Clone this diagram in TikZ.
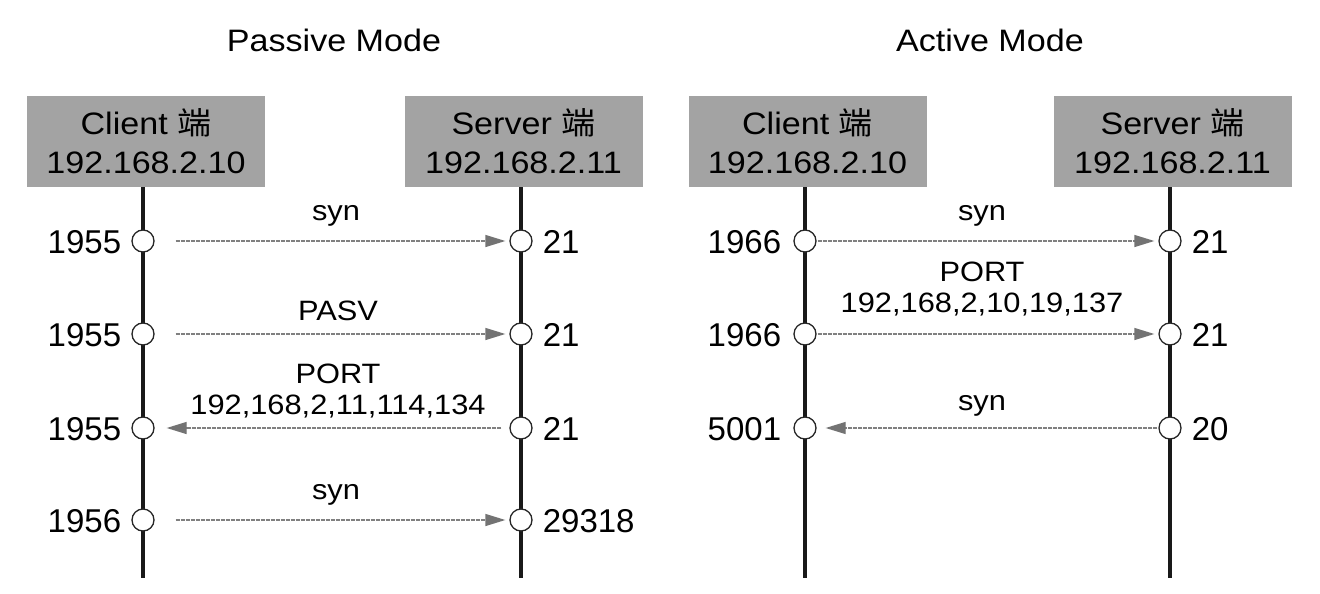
\documentclass[tikz,border=0pt]{standalone}
\usepackage{fontspec}
\setmainfont{Liberation Sans}
\newfontfamily\cjk{Noto Sans CJK SC}
\usetikzlibrary{arrows.meta}
\newcommand{\Xs}[1]{\scalebox{1.1}[1]{#1}}
\begin{document}
\begin{tikzpicture}[x=1pt,y=-1pt,
  boxst/.style={fill=black!36, minimum width=238pt, minimum height=91pt, inner sep=0pt, align=center,
     font=\fontsize{31}{40}\selectfont},
  life/.style={line width=3.5pt, black!90},
  port/.style={circle, draw=black!85, line width=1.3pt, fill=white, minimum size=22pt, inner sep=0pt},
  lbl/.style={font=\fontsize{33}{38}\selectfont, inner sep=0pt, yshift=-1pt},
  msg/.style={font=\fontsize{28}{33}\selectfont, inner sep=0pt, align=center},
  title/.style={font=\fontsize{31}{36}\selectfont, inner sep=0pt},
  arr/.style={draw=black!50, line width=1.3pt, dash pattern=on 4pt off 1pt,
     -{Triangle[length=20pt,width=12pt,color=black!55,fill=black!55]}}
]
\useasboundingbox (0,0) rectangle (1320,594);

% titles
\node[title] (t1) at (334,40) {\Xs{Passive Mode}};
\node[title] (t2) at (990,40) {\Xs{Active Mode}};

% boxes
\node[boxst] (pc) at (146,141.5) {\Xs{Client {\cjk 端}}\\[-1pt]\Xs{192.168.2.10}};
\node[boxst] (ps) at (523.5,141.5) {\Xs{Server {\cjk 端}}\\[-1pt]\Xs{192.168.2.11}};
\node[boxst] (ac) at (807.5,141.5) {\Xs{Client {\cjk 端}}\\[-1pt]\Xs{192.168.2.10}};
\node[boxst] (as) at (1172.5,141.5) {\Xs{Server {\cjk 端}}\\[-1pt]\Xs{192.168.2.11}};

% lifelines
\coordinate (pcT) at (143,187); \coordinate (pcB) at (143,578);
\coordinate (psT) at (521,187); \coordinate (psB) at (521,578);
\coordinate (acT) at (805,187); \coordinate (acB) at (805,578);
\coordinate (asT) at (1170,187); \coordinate (asB) at (1170,578);
\draw[life] (pcT) -- (pcB);
\draw[life] (psT) -- (psB);
\draw[life] (acT) -- (acB);
\draw[life] (asT) -- (asB);

% passive ports
\node[port] (pc1) at (143,241) {};
\node[port] (pc2) at (143,334) {};
\node[port] (pc3) at (143,428) {};
\node[port] (pc4) at (143,520) {};
\node[port] (ps1) at (521,241) {};
\node[port] (ps2) at (521,334) {};
\node[port] (ps3) at (521,428) {};
\node[port] (ps4) at (521,520) {};
% active ports
\node[port] (ac1) at (805,241) {};
\node[port] (ac2) at (805,334) {};
\node[port] (ac3) at (805,428) {};
\node[port] (as1) at (1170,241) {};
\node[port] (as2) at (1170,334) {};
\node[port] (as3) at (1170,428) {};

% port labels
\node[lbl, anchor=east] (lpc1) at ([xshift=-10pt]pc1.west) {1955};
\node[lbl, anchor=east] (lpc2) at ([xshift=-10pt]pc2.west) {1955};
\node[lbl, anchor=east] (lpc3) at ([xshift=-10pt]pc3.west) {1955};
\node[lbl, anchor=east] (lpc4) at ([xshift=-10pt]pc4.west) {1956};
\node[lbl, anchor=west] (lps1) at ([xshift=10pt]ps1.east) {21};
\node[lbl, anchor=west] (lps2) at ([xshift=10pt]ps2.east) {21};
\node[lbl, anchor=west] (lps3) at ([xshift=10pt]ps3.east) {21};
\node[lbl, anchor=west] (lps4) at ([xshift=10pt]ps4.east) {29318};
\node[lbl, anchor=east] (lac1) at ([xshift=-12pt]ac1.west) {1966};
\node[lbl, anchor=east] (lac2) at ([xshift=-12pt]ac2.west) {1966};
\node[lbl, anchor=east] (lac3) at ([xshift=-12pt]ac3.west) {5001};
\node[lbl, anchor=west] (las1) at ([xshift=10pt]as1.east) {21};
\node[lbl, anchor=west] (las2) at ([xshift=10pt]as2.east) {21};
\node[lbl, anchor=west] (las3) at ([xshift=10pt]as3.east) {20};

% passive messages
\draw[arr, shorten <=21pt, shorten >=4pt] (pc1) -- (ps1);
\draw[arr, shorten <=21pt, shorten >=4pt] (pc2) -- (ps2);
\draw[arr, shorten <=8pt, shorten >=12pt] (ps3) -- (pc3);
\draw[arr, shorten <=21pt, shorten >=4pt] (pc4) -- (ps4);
\node[msg] (m1) at (336,216) {\Xs{syn}};
\node[msg] (m2) at (338,311) {\Xs{PASV}};
\node[msg] (m3) at (338,391) {\Xs{PORT}\\[-2pt]\Xs{192,168,2,11,114,134}};
\node[msg] (m4) at (336,495) {\Xs{syn}};

% active messages
\draw[arr, shorten <=1pt, shorten >=4pt] (ac1) -- (as1);
\draw[arr, shorten <=1pt, shorten >=4pt] (ac2) -- (as2);
\draw[arr, shorten <=1pt, shorten >=9pt] (as3) -- (ac3);
\node[msg] (n1) at (982,216) {\Xs{syn}};
\node[msg] (n2) at (982,289) {\Xs{PORT}\\[-2pt]\Xs{192,168,2,10,19,137}};
\node[msg] (n3) at (982,406) {\Xs{syn}};
\end{tikzpicture}
\end{document}
